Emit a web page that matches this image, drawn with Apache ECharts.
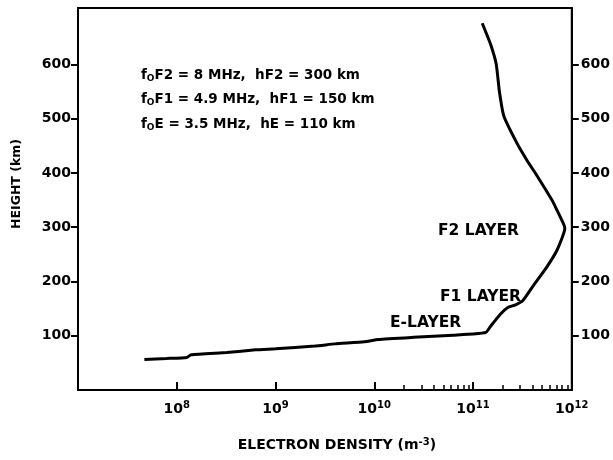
<!DOCTYPE html>
<html><head><meta charset="utf-8">
<script src="https://cdn.jsdelivr.net/npm/echarts@6/dist/echarts.min.js"></script>
<style>html,body{margin:0;padding:0;background:#fff}#c{width:613px;height:460px}</style>
</head><body><div id="c"></div>
<script>
// Electron density profile (m^-3) vs height (km)
const density = [4.7e7, 7.9e7, 1.26e8, 1.4e8, 3.2e8, 6.3e8, 1.0e9, 2.5e9, 4.0e9, 7.9e9,
  1.1e10, 2.5e10, 6.3e10, 1.0e11, 1.35e11, 1.5e11, 1.9e11, 2.25e11, 2.7e11, 3.2e11,
  4.1e11, 5.6e11, 7.1e11, 8.5e11, 8.3e11, 7.1e11, 6.3e11, 4.3e11, 3.5e11, 2.8e11,
  2.05e11, 1.85e11, 1.72e11, 1.5e11, 1.24e11];
const height = [56, 58, 60, 65, 69, 74, 76, 81, 85, 89,
  93, 97, 101, 103, 106, 117, 140, 152, 157, 165,
  193, 227, 258, 297, 305, 331, 350, 399, 424, 454,
  505, 550, 600, 638, 676];
const yTicks = [100, 200, 300, 400, 500, 600];
const xDecades = [1e8, 1e9, 1e10, 1e11, 1e12];
const xMinorTicks = [2e10, 3e10, 4e10, 5e10, 6e10, 7e10, 8e10, 9e10,
  2e11, 3e11, 4e11, 5e11, 6e11, 7e11, 8e11, 9e11];
const annotationLines = [
  ['F2', '8 MHz', 'hF2', '300 km'],
  ['F1', '4.9 MHz', 'hF1', '150 km'],
  ['E', '3.5 MHz', 'hE', '110 km']
];
const layerNames = ['F2 LAYER', 'F1 LAYER', 'E-LAYER'];

const FONT = 'DejaVu Sans';
const chart = echarts.init(document.getElementById('c'), null, {renderer: 'canvas'});

const annotationGraphics = annotationLines.map((a, i) => ({
  type: 'text', left: 141, top: 68 + i * 24.5,
  style: {
    text: 'f{s|O}' + a[0] + ' = ' + a[1] + ',  ' + a[2] + ' = ' + a[3],
    font: 'bold 13.5px "' + FONT + '"', fill: '#000',
    rich: {s: {fontSize: 9, fontWeight: 'bold', fontFamily: FONT, fill: '#000', verticalAlign: 'bottom', padding: [7, 0, 0, 0]}}
  }
}));
const layerPos = [[438, 223], [440, 289], [390, 315]];
const layerGraphics = layerNames.map((t, i) => ({
  type: 'text', left: layerPos[i][0], top: layerPos[i][1],
  style: {text: t, font: 'bold 15.5px "' + FONT + '"', fill: '#000'}
}));

chart.setOption({
  animation: false,
  backgroundColor: '#fff',
  grid: {left: 78, right: 38, top: 8, bottom: 70, show: true, borderColor: '#000', borderWidth: 2, backgroundColor: 'transparent'},
  xAxis: [{
    type: 'log', logBase: 10, min: 1e7, max: 1e12, position: 'bottom',
    name: 'ELECTRON DENSITY (m{sup|-3})', nameLocation: 'middle', nameGap: 47,
    nameTextStyle: {fontFamily: FONT, fontWeight: 'bold', fontSize: 14, color: '#000', padding: [0, 0, 0, 24],
      rich: {sup: {fontFamily: FONT, fontWeight: 'bold', fontSize: 10, color: '#000', verticalAlign: 'top', padding: [0, 0, 7, 0]}}},
    axisLine: {show: true, lineStyle: {color: '#000', width: 2}},
    axisTick: {show: true, inside: true, length: 8, lineStyle: {color: '#000', width: 2}},
    axisLabel: {
      margin: 10, color: '#000', fontFamily: FONT, fontWeight: 'bold', fontSize: 14,
      formatter: v => (xDecades.indexOf(v) >= 0 || v >= 1e8) ? '10{sup|' + Math.round(Math.log10(v)) + '}' : '',
      rich: {sup: {fontFamily: FONT, fontWeight: 'bold', fontSize: 10, color: '#000', padding: [0, 0, 8, 0]}}
    },
    splitLine: {show: false}
  }, {
    type: 'value', min: 7, max: 12, position: 'bottom',
    axisLine: {show: false},
    axisTick: {show: true, inside: true, length: 5, lineStyle: {color: '#000', width: 1.5},
      customValues: xMinorTicks.map(v => Math.log10(v))},
    axisLabel: {show: false},
    splitLine: {show: false}
  }],
  yAxis: [{
    type: 'value', min: 0, max: 704, position: 'left',
    name: 'HEIGHT (km)', nameLocation: 'middle', nameGap: 55,
    nameTextStyle: {fontFamily: FONT, fontWeight: 'bold', fontSize: 12.5, color: '#000', padding: [0, 0, 0, 30]},
    axisLine: {show: true, lineStyle: {color: '#000', width: 2}},
    axisTick: {show: true, inside: false, length: 7, lineStyle: {color: '#000', width: 2}, customValues: yTicks},
    axisLabel: {customValues: yTicks, margin: 7, color: '#000', fontFamily: FONT, fontWeight: 'bold', fontSize: 14},
    splitLine: {show: false}
  }, {
    type: 'value', min: 0, max: 704, position: 'right',
    axisLine: {show: true, lineStyle: {color: '#000', width: 2}},
    axisTick: {show: true, inside: false, length: 7, lineStyle: {color: '#000', width: 2}, customValues: yTicks},
    axisLabel: {customValues: yTicks, margin: 9, color: '#000', fontFamily: FONT, fontWeight: 'bold', fontSize: 14},
    splitLine: {show: false}
  }],
  series: [{
    type: 'line', xAxisIndex: 0, yAxisIndex: 0,
    data: density.map((d, i) => [d, height[i]]),
    showSymbol: false, symbol: 'none', smooth: 0.15,
    lineStyle: {color: '#000', width: 3},
    z: 5
  }],
  graphic: annotationGraphics.concat(layerGraphics)
});
</script></body></html>
